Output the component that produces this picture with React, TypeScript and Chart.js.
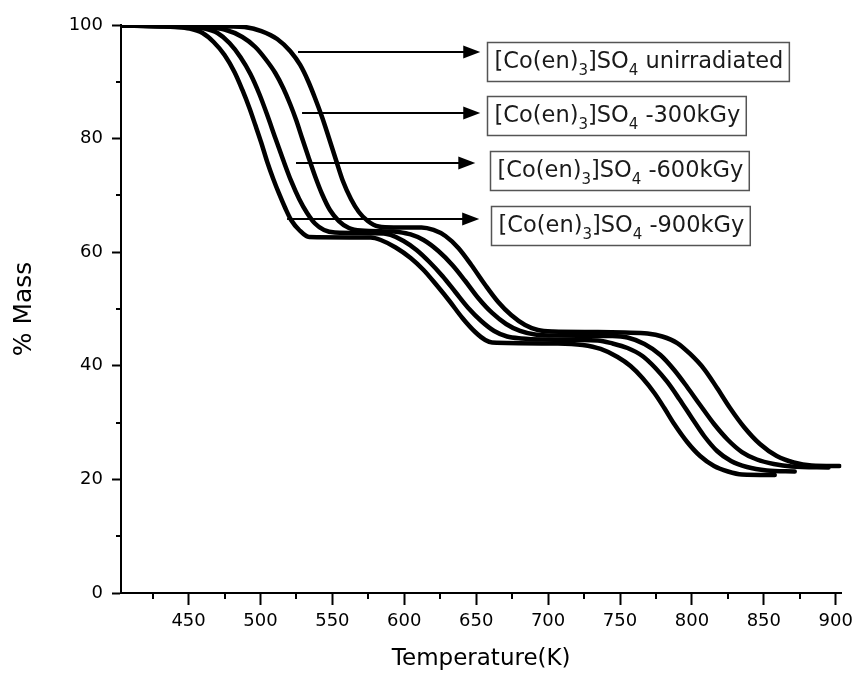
import React, { useEffect, useRef } from 'react';
import { Chart, registerables } from 'chart.js';

Chart.register(...registerables);

const FAMILY = "'DejaVu Sans', sans-serif";
const INK = '#000';

// Series: temperature (K) and % mass
const temp900 = [403, 430, 440.4, 450.7, 459.7, 467.4, 475, 481.9, 487.4, 492.3, 496.4, 500.6, 504.7, 508.9, 513, 517.2, 521.3, 526.9, 533.8, 576.7, 583.6, 594, 604.4, 613.4, 622.4, 631.4, 640.4, 649.3, 656.3, 661.1, 706.8, 724.1, 736.5, 748.3, 757.3, 765.6, 773.9, 780.8, 787.7, 796.7, 805.7, 815.4, 825.1, 834.8, 857.6];
const mass900 = [99.91, 99.74, 99.65, 99.38, 98.59, 97.01, 94.72, 91.73, 88.56, 85.39, 82.39, 79.23, 75.88, 72.89, 70.25, 67.78, 65.67, 63.91, 62.67, 62.59, 62.15, 60.83, 58.98, 56.87, 54.22, 51.41, 48.42, 45.95, 44.54, 44.1, 43.93, 43.66, 42.96, 41.55, 39.96, 37.85, 35.21, 32.57, 29.75, 26.59, 24.12, 22.36, 21.39, 20.86, 20.77];

const temp600 = [403, 436.9, 450.7, 461.1, 470.1, 478.4, 486, 493, 499.2, 504.7, 510.3, 515.8, 521.3, 526.9, 532.4, 537.9, 544.2, 551.8, 585.7, 590.5, 599.5, 608.5, 617.5, 626.5, 635.5, 644.5, 653.5, 662.5, 671.5, 681.2, 696.4, 734.5, 744.8, 755.2, 765.6, 774.6, 782.9, 791.2, 799.5, 808.5, 817.5, 827.2, 838.3, 852.1, 871.5];
const mass600 = [99.91, 99.74, 99.65, 99.38, 98.59, 96.83, 94.37, 91.37, 87.85, 84.15, 80.11, 76.23, 72.54, 69.37, 66.9, 65.05, 63.91, 63.47, 63.29, 63.03, 61.97, 60.39, 58.27, 55.81, 52.99, 50.18, 47.89, 46.13, 45.16, 44.81, 44.63, 44.45, 43.93, 43.13, 41.72, 39.61, 37.15, 34.16, 30.99, 27.64, 25, 23.24, 22.18, 21.57, 21.39];

const temp300 = [403, 447.3, 461.1, 475, 487.4, 496.4, 504, 510.3, 515.8, 520.6, 524.8, 528.9, 533.1, 537.9, 542.8, 548.3, 554.5, 561.5, 569.8, 592.6, 596.1, 604.4, 613.4, 623.7, 633.4, 642.4, 651.4, 661.1, 670.8, 680.5, 690.9, 706.8, 744.8, 755.2, 767, 778.1, 787.7, 796.7, 805.7, 815.4, 825.1, 834.8, 845.2, 856.9, 869.4, 895];
const mass300 = [99.91, 99.74, 99.65, 99.21, 97.89, 96.13, 93.84, 91.55, 88.91, 86.09, 83.27, 80.11, 76.94, 73.42, 70.25, 67.43, 65.49, 64.26, 63.82, 63.65, 63.56, 63.12, 62.15, 60.21, 57.75, 54.93, 51.94, 49.3, 47.36, 46.13, 45.51, 45.33, 45.25, 44.98, 43.84, 41.9, 39.26, 36.27, 33.1, 29.75, 26.94, 24.82, 23.5, 22.71, 22.27, 22.1];

const temp0 = [403, 457.7, 478.4, 488.8, 500.6, 511.6, 520.6, 527.6, 533.1, 537.9, 542.8, 547.6, 552.5, 557.3, 562.9, 568.4, 574.6, 582.2, 592.6, 612, 620.3, 628.6, 637.6, 646.6, 656.3, 665.3, 674.3, 684, 692.9, 703.3, 734.5, 753.2, 769.1, 779.4, 789.8, 798.8, 808.5, 817.5, 826.5, 836.2, 847.3, 859, 870.8, 883.2, 902.6];
const mass0 = [99.91, 99.86, 99.74, 99.65, 98.94, 97.54, 95.42, 92.96, 90.14, 87.15, 83.8, 80.11, 76.23, 72.54, 69.37, 67.08, 65.49, 64.52, 64.35, 64.35, 63.91, 62.85, 60.74, 57.75, 54.22, 51.23, 48.94, 47.18, 46.3, 46.04, 45.95, 45.86, 45.69, 45.16, 44.01, 42.08, 39.43, 36.09, 32.57, 29.23, 26.23, 24.12, 22.98, 22.45, 22.36];

// Axes
const xMin = 403;
const xMax = 904;
const yMin = 0;
const yMax = 100;
const xTickValues = [450, 500, 550, 600, 650, 700, 750, 800, 850, 900];
const yTickValues = [0, 20, 40, 60, 80, 100];
const xMinorTicks = [425, 475, 525, 575, 625, 675, 725, 775, 825, 875];
const yMinorTicks = [10, 30, 50, 70, 90];

// Annotations (data units)
const labelSuffix = [' unirradiated', ' -300kGy', ' -600kGy', ' -900kGy'];
const arrowStartT = [526.1, 528.9, 524.7, 518.5];
const arrowEndT = [652.8, 652.8, 649.4, 652.1];
const arrowMass = [95.25, 84.5, 75.7, 65.8];
const boxLeftT = [657.7, 657.7, 659.8, 660.5];
const boxCenterMass = [93.66, 84.07, 74.38, 64.7];

const minorTicksPlugin = {
  id: 'minorTicks',
  afterDraw(chart: any) {
    const { ctx, chartArea, scales } = chart;
    const x = scales.x;
    const y = scales.y;
    ctx.save();
    ctx.strokeStyle = INK;
    ctx.lineWidth = 2;
    ctx.beginPath();
    xMinorTicks.forEach((v) => {
      const px = Math.round(x.getPixelForValue(v));
      ctx.moveTo(px, chartArea.bottom);
      ctx.lineTo(px, chartArea.bottom + 6);
    });
    yMinorTicks.forEach((v) => {
      const py = Math.round(y.getPixelForValue(v));
      ctx.moveTo(chartArea.left, py);
      ctx.lineTo(chartArea.left - 5, py);
    });
    ctx.stroke();
    ctx.restore();
  },
};

const annotationPlugin = {
  id: 'labelsArrows',
  afterDraw(chart: any) {
    const { ctx, scales } = chart;
    const x = scales.x;
    const y = scales.y;
    const mainFont = `22.5px ${FAMILY}`;
    const subFont = `15px ${FAMILY}`;
    ctx.save();
    for (let i = 0; i < labelSuffix.length; i++) {
      const x0 = x.getPixelForValue(arrowStartT[i]);
      const x1 = x.getPixelForValue(arrowEndT[i]);
      const ay = Math.round(y.getPixelForValue(arrowMass[i]));
      const head = 17;
      ctx.strokeStyle = '#000';
      ctx.fillStyle = '#000';
      ctx.lineWidth = 2;
      ctx.beginPath();
      ctx.moveTo(x0, ay);
      ctx.lineTo(x1 - head + 2, ay);
      ctx.stroke();
      ctx.beginPath();
      ctx.moveTo(x1, ay);
      ctx.lineTo(x1 - head, ay - 6.5);
      ctx.lineTo(x1 - head, ay + 6.5);
      ctx.closePath();
      ctx.fill();

      const segs: [string, boolean][] = [
        ['[Co(en)', false],
        ['3', true],
        [']SO', false],
        ['4', true],
        [labelSuffix[i], false],
      ];
      let w = 0;
      const widths = segs.map(([t, sub]) => {
        ctx.font = sub ? subFont : mainFont;
        const m = ctx.measureText(t).width;
        w += m;
        return m;
      });
      const padL = 7;
      const padR = 6;
      const bh = 39;
      const bx = Math.round(x.getPixelForValue(boxLeftT[i])) + 0.5;
      const by = Math.round(y.getPixelForValue(boxCenterMass[i]) - bh / 2) + 0.5;
      ctx.fillStyle = '#fff';
      ctx.fillRect(bx, by, w + padL + padR, bh);
      ctx.strokeStyle = '#555';
      ctx.lineWidth = 1.5;
      ctx.strokeRect(bx, by, w + padL + padR, bh);
      ctx.fillStyle = '#1a1a1a';
      ctx.textBaseline = 'alphabetic';
      ctx.textAlign = 'left';
      let tx = bx + padL;
      const base = by + 25.5;
      segs.forEach(([t, sub], k) => {
        ctx.font = sub ? subFont : mainFont;
        ctx.fillText(t, tx, sub ? base + 7 : base);
        tx += widths[k];
      });
    }
    ctx.restore();
  },
};

function series(label: string, T: number[], M: number[]) {
  return {
    label,
    data: T.map((t, i) => ({ x: t, y: M[i] })),
    borderColor: '#000',
    backgroundColor: '#000',
    borderWidth: 4.5,
    pointRadius: 0,
    fill: false,
    cubicInterpolationMode: 'monotone' as const,
    borderJoinStyle: 'round' as const,
    borderCapStyle: 'round' as const,
  };
}

export default function App() {
  const ref = useRef<HTMLCanvasElement>(null);
  useEffect(() => {
    const canvas = ref.current;
    if (!canvas) return;
    const chart = new Chart(canvas, {
      type: 'line',
      data: {
        datasets: [
          series('[Co(en)3]SO4 unirradiated', temp0, mass0),
          series('[Co(en)3]SO4 -300kGy', temp300, mass300),
          series('[Co(en)3]SO4 -600kGy', temp600, mass600),
          series('[Co(en)3]SO4 -900kGy', temp900, mass900),
        ],
      },
      options: {
        animation: false,
        responsive: false,
        devicePixelRatio: 1,
        layout: { padding: { left: 0, top: 25, right: 14, bottom: 0 } },
        plugins: {
          legend: { display: false },
          tooltip: { enabled: false },
        },
        scales: {
          x: {
            type: 'linear',
            min: xMin,
            max: xMax,
            afterBuildTicks: (s: any) => {
              s.ticks = xTickValues.map((v) => ({ value: v }));
            },
            afterFit: (s: any) => {
              s.height = 80;
            },
            ticks: {
              autoSkip: false,
              maxRotation: 0,
              color: INK,
              padding: 6,
              font: { size: 18, family: FAMILY },
            },
            grid: {
              drawOnChartArea: false,
              drawTicks: true,
              tickLength: 12,
              tickWidth: 2,
              tickColor: INK,
            },
            border: { display: true, width: 2, color: INK },
            title: {
              display: true,
              text: 'Temperature(K)',
              color: INK,
              font: { size: 23, family: FAMILY },
              padding: { top: 0, bottom: 0 },
            },
          },
          y: {
            type: 'linear',
            min: yMin,
            max: yMax,
            afterBuildTicks: (s: any) => {
              s.ticks = yTickValues.map((v) => ({ value: v }));
            },
            afterFit: (s: any) => {
              s.width = 121;
            },
            ticks: {
              color: INK,
              padding: 9,
              font: { size: 18, family: FAMILY },
            },
            grid: {
              drawOnChartArea: false,
              drawTicks: true,
              tickLength: 9,
              tickWidth: 2,
              tickColor: INK,
            },
            border: { display: true, width: 2, color: INK },
            title: {
              display: true,
              text: '% Mass',
              color: INK,
              font: { size: 25, family: FAMILY },
              padding: { top: 9, bottom: 9 },
            },
          },
        },
      },
      plugins: [minorTicksPlugin, annotationPlugin],
    });
    return () => chart.destroy();
  }, []);
  return (
    <div style={{ position: 'absolute', left: 0, top: 0, width: 859, height: 673, background: '#fff' }}>
      <canvas ref={ref} width={859} height={673} style={{ display: 'block' }} />
    </div>
  );
}
